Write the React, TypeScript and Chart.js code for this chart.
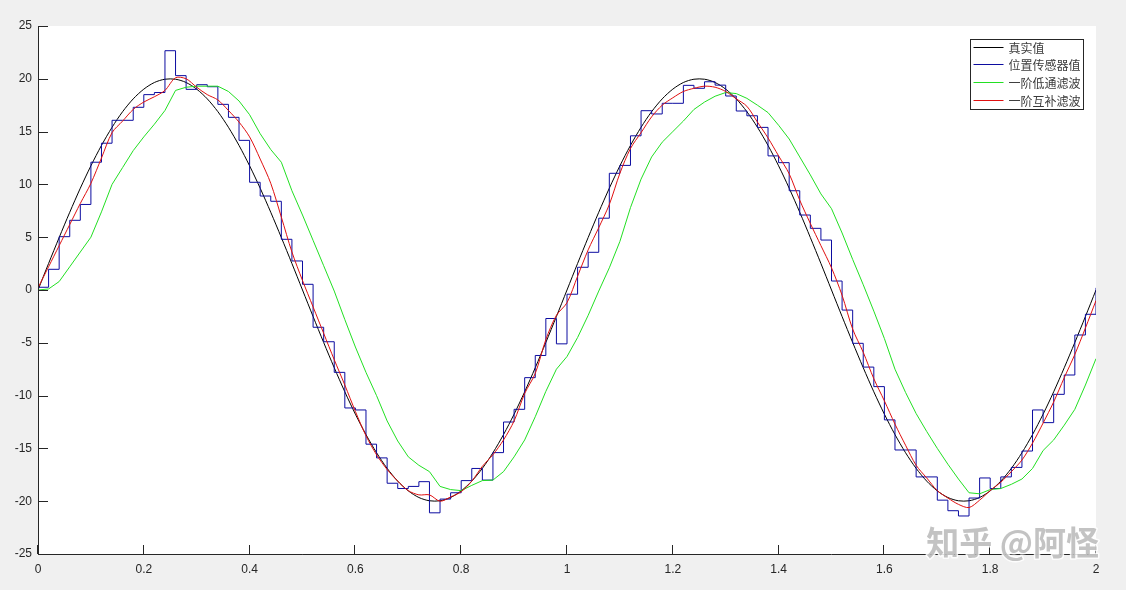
import React, { useEffect, useRef } from "react";
import { Chart, registerables } from "chart.js";

Chart.register(...registerables);

// sample interval of the recorded signals (s)
const SAMPLE_STEP = 0.02;

const X_TICKS = [0, 0.2, 0.4, 0.6, 0.8, 1, 1.2, 1.4, 1.6, 1.8, 2];
const Y_TICKS = [-25, -20, -15, -10, -5, 0, 5, 10, 15, 20, 25];

const SERIES_NAMES = ["真实值", "位置传感器值", "一阶低通滤波", "一阶互补滤波"];

// 真实值
const TRUE_VALUE = [
  0, 2.51, 4.97, 7.36, 9.64, 11.76, 13.69, 15.41, 16.89, 18.1,
  19.02, 19.65, 19.96, 19.96, 19.65, 19.02, 18.1, 16.89, 15.41, 13.69,
  11.76, 9.64, 7.36, 4.97, 2.51, 0, -2.51, -4.97, -7.36, -9.64,
  -11.76, -13.69, -15.41, -16.89, -18.1, -19.02, -19.65, -19.96, -19.96, -19.65,
  -19.02, -18.1, -16.89, -15.41, -13.69, -11.76, -9.64, -7.36, -4.97, -2.51,
  0, 2.51, 4.97, 7.36, 9.64, 11.76, 13.69, 15.41, 16.89, 18.1,
  19.02, 19.65, 19.96, 19.96, 19.65, 19.02, 18.1, 16.89, 15.41, 13.69,
  11.76, 9.64, 7.36, 4.97, 2.51, 0, -2.51, -4.97, -7.36, -9.64,
  -11.76, -13.69, -15.41, -16.89, -18.1, -19.02, -19.65, -19.96, -19.96, -19.65,
  -19.02, -18.1, -16.89, -15.41, -13.69, -11.76, -9.64, -7.36, -4.97, -2.51,
  0,
];

// 位置传感器值 (sample-and-hold)
const SENSOR = [
  0.26, 1.96, 5.05, 6.6, 8.1, 12.1, 13.9, 16.07, 16.07, 17.3,
  18.5, 18.7, 22.66, 20.3, 19.0, 19.44, 19.25, 17.58, 16.35, 14.17,
  10.2, 8.9, 8.4, 4.8, 2.75, 0.54, -3.53, -4.9, -7.8, -11.17,
  -11.36, -14.6, -15.9, -18.3, -18.8, -18.6, -18.15, -21.1, -19.8, -19.2,
  -18.05, -16.9, -18.0, -15.4, -12.5, -11.3, -8.3, -6.2, -2.7, -5.1,
  -0.4, 2.15, 3.57, 6.8, 11.05, 11.8, 14.6, 16.98, 16.67, 17.68,
  17.68, 19.38, 19.1, 19.72, 19.4, 18.37, 16.95, 16.5, 15.4, 12.7,
  12.06, 9.4, 7.1, 5.84, 4.73, 0.85, -1.9, -5.05, -7.3, -9.15,
  -12.3, -15.15, -15.15, -17.7, -17.7, -19.9, -20.9, -21.4, -19.7, -17.8,
  -18.8, -17.7, -16.8, -15.25, -11.36, -12.56, -9.88, -8.05, -4.26, -2.3,
  0.2,
];

// 一阶低通滤波
const LOW_PASS = [
  0, 0.1, 0.8, 2.2, 3.6, 5.0, 7.4, 10.0, 11.6, 13.2,
  14.5, 15.7, 17.0, 18.9, 19.2, 19.3, 19.3, 19.3, 18.8, 17.9,
  16.6, 14.8, 13.3, 12.1, 9.4, 7.1, 4.7, 2.3, -0.1, -2.8,
  -5.4, -7.8, -10.0, -12.4, -14.3, -15.8, -16.6, -17.2, -18.6, -18.9,
  -19.0, -18.5, -18.05, -18.0, -17.2, -15.8, -14.2, -12.0, -9.6, -7.5,
  -6.3, -4.5, -2.4, -0.1, 2.1, 4.6, 7.8, 10.5, 12.6, 14.0,
  15.0, 16.0, 17.1, 17.8, 18.35, 18.7, 18.6, 18.15, 17.5, 16.8,
  15.6, 14.3, 12.6, 10.9, 9.1, 7.7, 5.4, 2.9, 0.5, -2.0,
  -4.6, -7.5, -9.7, -11.7, -13.4, -15.0, -16.5, -17.9, -19.2, -19.3,
  -18.9, -18.8, -18.4, -17.9, -16.9, -15.2, -14.2, -12.8, -11.3, -9.0,
  -6.5,
];

// 一阶互补滤波
const COMPLEMENTARY = [
  0.2, 2.2, 4.2, 6.2, 8.2, 10.1, 12.5, 14.9, 16.0, 17.1,
  17.8, 18.3, 18.9, 20.1, 20.0, 19.2, 18.5, 18.0, 17.0, 15.9,
  14.5, 12.4, 10.1, 6.9, 3.6, 0.9, -1.6, -4.1, -6.6, -9.0,
  -11.5, -13.8, -15.6, -17.0, -18.1, -19.0, -19.4, -19.4, -20.0, -19.6,
  -19.1, -18.1, -16.7, -15.6, -14.2, -12.4, -9.8, -7.9, -4.7, -2.4,
  -1.2, 1.3, 3.8, 5.9, 8.1, 11.05, 13.4, 14.9, 16.4, 17.5,
  18.2, 18.8, 19.1, 19.3, 19.2, 18.8, 18.1, 17.4, 15.9, 14.4,
  12.7, 11.0, 8.5, 6.3, 4.2, 2.1, -0.5, -3.7, -5.9, -8.4,
  -10.5, -12.7, -14.7, -16.6, -17.8, -19.0, -19.7, -20.3, -20.6, -19.9,
  -19.0, -18.2, -17.2, -16.1, -14.5, -12.6, -10.6, -8.3, -6.1, -3.6,
  -1.0,
];

const SERIES_COLORS = ["#000000", "#0c0ca0", "#22e022", "#e01010"];
const AXIS_COLOR = "#262626";
const WATERMARK = "知乎 @阿怪";

const toPoints = (vals: number[]) =>
  vals.map((y, i) => ({ x: Math.round(i * SAMPLE_STEP * 1000) / 1000, y }));

const fmt = (v: number) => String(Math.round(v * 10) / 10);

const decorPlugin = {
  id: "decor",
  beforeDraw(chart: any) {
    const { ctx, chartArea: a } = chart;
    ctx.save();
    ctx.fillStyle = "#f0f0f0";
    ctx.fillRect(0, 0, chart.width, chart.height);
    ctx.fillStyle = "#ffffff";
    ctx.fillRect(a.left, a.top, a.right - a.left, a.bottom - a.top);
    ctx.restore();
  },
  afterDraw(chart: any) {
    const { ctx, chartArea: a } = chart;
    const xs = chart.scales.x;
    const ys = chart.scales.y;
    ctx.save();
    // axes
    ctx.strokeStyle = AXIS_COLOR;
    ctx.lineWidth = 1;
    ctx.beginPath();
    ctx.moveTo(a.left + 0.5, a.top);
    ctx.lineTo(a.left + 0.5, a.bottom + 0.5);
    ctx.lineTo(a.right, a.bottom + 0.5);
    ctx.stroke();
    // inward ticks
    ctx.beginPath();
    for (const v of X_TICKS) {
      const px = Math.round(xs.getPixelForValue(v)) - 0.5;
      ctx.moveTo(px, a.bottom);
      ctx.lineTo(px, a.bottom - 9);
    }
    for (const v of Y_TICKS) {
      const py = Math.round(ys.getPixelForValue(v)) + 0.5;
      ctx.moveTo(a.left, py);
      ctx.lineTo(a.left + 10, py);
    }
    ctx.stroke();

    // legend box
    const bw = 113;
    const bh = 70;
    const bx = Math.round(a.right - 13 - bw) + 0.5;
    const by = Math.round(a.top + 13) + 0.5;
    ctx.fillStyle = "#ffffff";
    ctx.fillRect(bx, by, bw, bh);
    ctx.strokeStyle = AXIS_COLOR;
    ctx.strokeRect(bx, by, bw, bh);
    ctx.font = "12px 'Noto Sans CJK SC'";
    ctx.textBaseline = "middle";
    ctx.textAlign = "left";
    SERIES_NAMES.forEach((name, i) => {
      const ry = Math.round(by + 7 + i * 17.8) + 0.5;
      ctx.strokeStyle = SERIES_COLORS[i];
      ctx.beginPath();
      ctx.moveTo(bx + 3, ry);
      ctx.lineTo(bx + 33, ry);
      ctx.stroke();
      ctx.fillStyle = "#3a3a3a";
      ctx.fillText(name, bx + 38, ry + 0.5);
    });

    // watermark
    ctx.font = "bold 33px 'Noto Sans CJK SC'";
    ctx.textAlign = "right";
    ctx.textBaseline = "middle";
    ctx.lineJoin = "round";
    ctx.lineWidth = 3;
    ctx.strokeStyle = "rgba(255,255,255,0.85)";
    ctx.strokeText(WATERMARK, 1099, 542);
    ctx.fillStyle = "rgba(185,185,185,0.85)";
    ctx.fillText(WATERMARK, 1099, 542);
    ctx.restore();
  },
};

export default function App() {
  const ref = useRef<HTMLCanvasElement>(null);

  useEffect(() => {
    document.body.style.margin = "0";
    document.body.style.background = "#f0f0f0";
    const canvas = ref.current!;
    const series = [TRUE_VALUE, SENSOR, LOW_PASS, COMPLEMENTARY];
    const orders = [3, 2, 1, 0];
    const chart = new Chart(canvas, {
      type: "line",
      data: {
        datasets: series.map((vals, i) => ({
          label: SERIES_NAMES[i],
          data: toPoints(vals),
          borderColor: SERIES_COLORS[i],
          backgroundColor: SERIES_COLORS[i],
          borderWidth: 1,
          pointRadius: 0,
          fill: false,
          order: orders[i],
          stepped: i === 1 ? "before" : false,
          tension: i === 0 || i === 3 ? 0.3 : 0,
        })) as any,
      },
      options: {
        animation: false,
        responsive: false,
        devicePixelRatio: 1,
        layout: { padding: { top: 26, right: 30, left: 0, bottom: 0 } },
        plugins: {
          legend: { display: false },
          tooltip: { enabled: false },
        },
        scales: {
          x: {
            type: "linear",
            min: 0,
            max: 2,
            grid: { display: false, drawTicks: false },
            border: { display: false },
            afterFit: (s: any) => {
              s.height = 36;
            },
            afterBuildTicks: (s: any) => {
              s.ticks = X_TICKS.map((v) => ({ value: v }));
            },
            ticks: {
              padding: 8,
              color: AXIS_COLOR,
              font: { family: "'Liberation Sans', Arial, sans-serif", size: 12 },
              maxRotation: 0,
              autoSkip: false,
              callback: (v: any) => fmt(Number(v)),
            },
          },
          y: {
            type: "linear",
            min: -25,
            max: 25,
            grid: { display: false, drawTicks: false },
            border: { display: false },
            afterFit: (s: any) => {
              s.width = 38;
            },
            afterBuildTicks: (s: any) => {
              s.ticks = Y_TICKS.map((v) => ({ value: v }));
            },
            ticks: {
              padding: 6,
              color: AXIS_COLOR,
              font: { family: "'Liberation Sans', Arial, sans-serif", size: 12 },
              autoSkip: false,
              callback: (v: any) => fmt(Number(v)),
            },
          },
        },
      },
      plugins: [decorPlugin],
    });
    return () => chart.destroy();
  }, []);

  return (
    <div style={{ width: 1126, height: 590 }}>
      <canvas ref={ref} width={1126} height={590} style={{ display: "block" }} />
    </div>
  );
}
